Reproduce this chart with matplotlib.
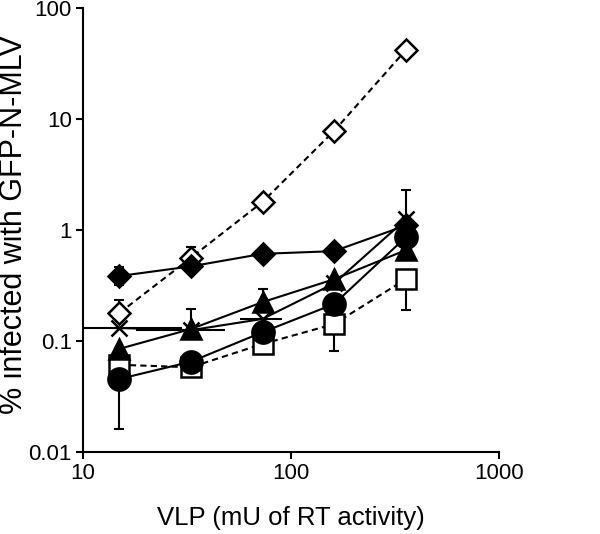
import matplotlib
matplotlib.use('Agg')
import matplotlib.pyplot as plt
import numpy as np

# VLP dose (mU of RT activity)
vlp = [15, 33, 73, 161, 357]

# % infected with GFP-N-MLV, one list per series
filled_diamond = [0.385, 0.47, 0.61, 0.645, 1.1]
open_diamond = [0.179, 0.56, 1.79, 7.8, 42.0]
triangle = [0.085, 0.128, 0.224, 0.36, 0.66]
cross = [0.131, 0.125, 0.158, 0.33, 1.25]
circle = [0.0455, 0.065, 0.12, 0.215, 0.865]
square = [0.061, 0.058, 0.094, 0.142, 0.362]

# error bars (lower, upper)
filled_diamond_err = [[0.065, 0.05, 0.04, 0.04, 0.08], [0.075, 0.05, 0.04, 0.04, 0.08]]
open_diamond_err = [[0.0, 0.0, 0.0, 0.0, 0.0], [0.055, 0.14, 0.0, 0.0, 0.0]]
triangle_err = [[0.0, 0.0, 0.0, 0.0, 0.0], [0.0, 0.067, 0.07, 0.0, 0.0]]
cross_err = [[0.0, 0.0, 0.0, 0.0, 0.0], [0.0, 0.0, 0.0, 0.0, 1.04]]
cross_xerr = [[14.9, 15.0, 16.0, 0.0, 0.0], [15.0, 15.0, 17.5, 0.0, 0.0]]
circle_err = [[0.0295, 0.0, 0.0, 0.0, 0.0], [0.0, 0.0, 0.0, 0.0, 0.0]]
square_err = [[0.0, 0.0, 0.016, 0.061, 0.172], [0.0, 0.0, 0.0, 0.0, 0.0]]

plt.rcParams['font.family'] = ['Liberation Sans', 'DejaVu Sans']

fig = plt.figure(figsize=(6, 5.34), dpi=100)
ax = fig.add_axes([0.138, 0.1536, 0.694, 0.8314])

series = [
    # values, errors, marker, size, face, dashed, zorder
    (open_diamond, open_diamond_err, 'D', 11.0, 'white', True, 3),
    (square, square_err, 's', 14.5, 'white', True, 4),
    (cross, cross_err, 'x', 11.0, 'black', False, 5),
    (triangle, triangle_err, '^', 14.5, 'black', False, 6),
    (circle, circle_err, 'o', 16.0, 'black', False, 7),
    (filled_diamond, filled_diamond_err, 'D', 11.0, 'black', False, 8),
]

for vals, err, mk, ms, face, dashed, z in series:
    ax.errorbar(vlp, vals, yerr=err, fmt='none', ecolor='black',
                elinewidth=1.5, capsize=3.6, capthick=1.5, zorder=z)
    ls = (0, (3, 2)) if dashed else '-'
    ax.plot(vlp, vals, color='black', linestyle=ls, linewidth=1.5,
            marker=mk, markersize=ms, markerfacecolor=face,
            markeredgecolor='black', markeredgewidth=1.8, zorder=z + 0.5)

# horizontal error bars on the cross series
ax.errorbar(vlp, cross, xerr=cross_xerr, fmt='none', ecolor='black',
            elinewidth=1.5, capsize=0, zorder=5)

ax.set_xscale('log')
ax.set_yscale('log')
ax.set_xlim(10, 1000)
ax.set_ylim(0.01, 100)
ax.set_xticks([10, 100, 1000])
ax.set_xticklabels(['10', '100', '1000'])
ax.set_yticks([0.01, 0.1, 1, 10, 100])
ax.set_yticklabels(['0.01', '0.1', '1', '10', '100'])
ax.minorticks_off()

# Formatting of graph
ax.spines['top'].set_color('none')
ax.spines['right'].set_color('none')
ax.spines['left'].set_linewidth(1.5)
ax.spines['bottom'].set_linewidth(1.5)
ax.tick_params(direction='out', length=5, width=1.5, labelsize=16, pad=3)

ax.set_xlabel('VLP (mU of RT activity)', fontsize=18.5, labelpad=16)
ax.set_ylabel('% infected with GFP-N-MLV', fontsize=22)
ax.yaxis.set_label_coords(-0.13, 0.513)

fig.savefig('out.png', dpi=100)
